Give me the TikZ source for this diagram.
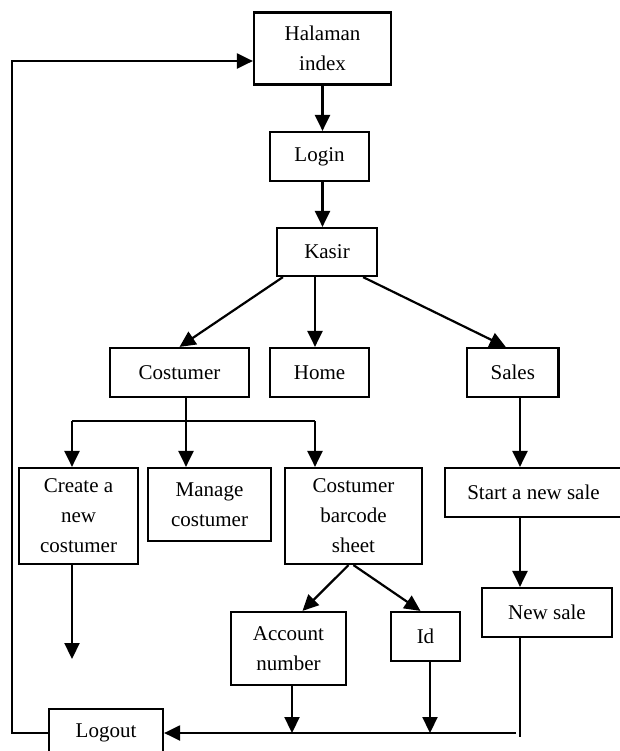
\documentclass[tikz,border=0pt]{standalone}
\usepackage{fontspec}
\setmainfont{Liberation Serif}
\usetikzlibrary{arrows.meta, positioning, calc}

\begin{document}
\begin{tikzpicture}[x=0.5pt, y=-0.5pt, >={Triangle[length=8pt, width=7.5pt]},
  line width=1.1pt,
  box/.style={draw, line width=1.1pt, inner sep=0pt, align=center,
              font=\fontsize{10.5}{15}\selectfont}]
  \useasboundingbox (0,0) rectangle (620,751);
  % boxes
  \node[box, minimum width=68.5pt, minimum height=36pt] (index) at (322.5,48.5) {Halaman\\index};
  \node[box, minimum width=49.5pt, minimum height=24.5pt] (login) at (319.5,156.5) {Login};
  \node[box, minimum width=50pt, minimum height=24pt] (kasir) at (327,252) {Kasir};
  \node[box, minimum width=69.5pt, minimum height=24.5pt] (costumer) at (179.5,372.5) {Costumer};
  \node[box, minimum width=49.5pt, minimum height=24.5pt] (home) at (319.5,372.5) {Home};
  \node[box, minimum width=45.75pt, minimum height=24.5pt] (sales) at (512.75,372.5) {Sales};
  \node[box, minimum width=59.5pt, minimum height=48pt] (create) at (78.5,516) {Create a\\new\\costumer};
  \node[box, minimum width=61.5pt, minimum height=36.5pt] (manage) at (209.5,504.5) {Manage\\costumer};
  \node[box, minimum width=68.5pt, minimum height=48pt] (barcode) at (353.5,516) {Costumer\\barcode\\sheet};
  \node[box, minimum width=88.5pt, minimum height=24.5pt] (start) at (533.5,492.5) {Start a new sale};
  \node[box, minimum width=65pt, minimum height=24.5pt] (newsale) at (547,612.5) {New sale};
  \node[box, minimum width=57.5pt, minimum height=36.5pt] (account) at (288.5,648.5) {Account\\number};
  \node[box, minimum width=34.5pt, minimum height=24.5pt] (id) at (425.5,636.5) {Id};
  \node[box, minimum width=57pt, minimum height=24pt] (logout) at (106,733) {Logout};
  % junctions
  \coordinate (split) at (186,421);
  \coordinate (hl) at (72,421);
  \coordinate (hr) at (315,421);
  \coordinate (sx) at (520,0);
  \coordinate (ax) at (292,0);
  \coordinate (ix) at (430,0);
  \coordinate (dead) at (72,659);
  \coordinate (busend) at (520,733);
  \coordinate (lft) at (12,733);
  % flow
  \draw[->] (index.south) -- (index.south |- login.north);
  \draw[->] (index.south |- login.south) -- (index.south |- kasir.north);
  \draw[->] ($(kasir.south west)+(7,0)$) -- (costumer.north);
  \draw[->] (hr |- kasir.south) -- (hr |- home.north);
  \draw[->] ($(kasir.south east)+(-15,0)$) -- ($(sales.north)+(-7,0)$);
  \draw (split |- costumer.south) -- (split);
  \draw (hl) -- (hr);
  \draw[->] (hl) -- (hl |- create.north);
  \draw[->] (split) -- (split |- manage.north);
  \draw[->] (hr) -- (hr |- barcode.north);
  \draw[->] (sx |- sales.south) -- (sx |- start.north);
  \draw[->] (sx |- start.south) -- (sx |- newsale.north);
  \draw[->] (hl |- create.south) -- (dead);
  \draw[->] ($(barcode.south)+(-5,0)$) -- ($(account.north)+(14,0)$);
  \draw[->] (barcode.south) -- ($(id.north)+(-5,0)$);
  \draw (sx |- newsale.south) -- ($(busend)+(0,4)$);
  \draw[->] ($(busend)+(-4,0)$) -- (logout.east);
  \draw[->] (ax |- account.south) -- (ax |- logout.east);
  \draw[->] (ix |- id.south) -- (ix |- logout.east);
  \draw[->] (logout.west) -- (lft) |- ($(index.west)+(0,12.5)$);
\end{tikzpicture}
\end{document}
